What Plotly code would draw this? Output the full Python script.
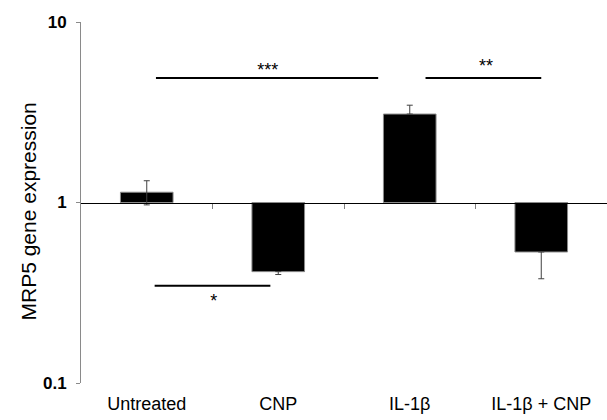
import plotly.graph_objects as go

categories = ["Untreated", "CNP", "IL-1β", "IL-1β + CNP"]
expression = [1.14, 0.414, 3.09, 0.532]
err_plus = [0.18, 0.0, 0.37, 0.0]
err_minus = [0.17, 0.015, 0.0, 0.154]

# significance brackets: (x start, x end, y level, label, label x, label y)
sig_x0 = [0.07, 2.12, 0.06]
sig_x1 = [1.76, 3.00, 0.94]
sig_y = [4.9, 4.9, 0.346]
sig_labels = ["***", "**", "*"]
sig_label_x = [0.92, 2.58, 0.51]
sig_label_y = [5.34, 5.62, 0.278]

y_ticks = [0.1, 1, 10]
y_ticktext = ["0.1", "1", "10"]
y_title = "MRP5 gene expression"
baseline = 1

xpos = list(range(len(categories)))
FONT = "Arial, Liberation Sans"

fig = go.Figure()
fig.add_trace(go.Bar(
    x=xpos, y=[v - baseline for v in expression], base=baseline,
    width=0.4, marker=dict(color="black", line=dict(color="#8a8a8a", width=1)),
    showlegend=False, hoverinfo="skip"))
fig.add_trace(go.Scatter(
    x=xpos, y=expression, mode="markers", marker=dict(size=0.1, color="rgba(0,0,0,0)"),
    error_y=dict(type="data", array=err_plus, arrayminus=err_minus, symmetric=False,
                 color="#404040", thickness=1, width=3),
    showlegend=False, hoverinfo="skip"))
for x0, x1, y in zip(sig_x0, sig_x1, sig_y):
    fig.add_trace(go.Scatter(x=[x0, x1], y=[y, y], mode="lines",
                             line=dict(color="black", width=2), showlegend=False, hoverinfo="skip"))
fig.add_trace(go.Scatter(x=sig_label_x, y=sig_label_y, mode="text", text=sig_labels,
                         textfont=dict(family=FONT, size=18, color="black"),
                         showlegend=False, hoverinfo="skip"))
# dummy trace for category label axis
fig.add_trace(go.Scatter(x=xpos, y=expression, xaxis="x2", mode="markers",
                         marker=dict(color="rgba(0,0,0,0)"), showlegend=False, hoverinfo="skip"))

fig.add_annotation(text=y_title, xref="paper", yref="paper", x=0, y=0.5,
                   xanchor="center", yanchor="middle", xshift=-53, yshift=-9,
                   textangle=-90, showarrow=False,
                   font=dict(size=21, family=FONT, color="black"))

fig.update_layout(
    width=607, height=420,
    margin=dict(l=81, r=0, t=21.5, b=37),
    paper_bgcolor="white", plot_bgcolor="white",
    font=dict(family=FONT, color="black"),
    xaxis=dict(range=[-0.5, 3.5], anchor="free", position=0.5, showline=True,
               linecolor="black", linewidth=1.2, ticks="outside", tickvals=[0.5, 1.5, 2.5],
               ticklen=5, tickcolor="#7f7f7f", tickwidth=1, showticklabels=False,
               showgrid=False, zeroline=False),
    xaxis2=dict(matches="x", overlaying="x", anchor="y", side="bottom", showline=False,
                tickvals=xpos, ticktext=categories, ticks="outside", ticklen=4,
                tickcolor="rgba(0,0,0,0)", showgrid=False, zeroline=False,
                tickfont=dict(size=18, family=FONT, color="black")),
    yaxis=dict(type="log", range=[-1, 1], showline=True, linecolor="#8a8a8a", linewidth=1,
               ticks="outside", ticklen=4, tickcolor="#8a8a8a", tickvals=y_ticks,
               ticktext=y_ticktext, showgrid=False, zeroline=False, ticklabelstandoff=6,
               tickfont=dict(size=17, family=FONT, color="black", weight="bold")),
)
fig.write_html("out.html", config={"displayModeBar": False},
               post_script="document.body.style.margin='0';")
